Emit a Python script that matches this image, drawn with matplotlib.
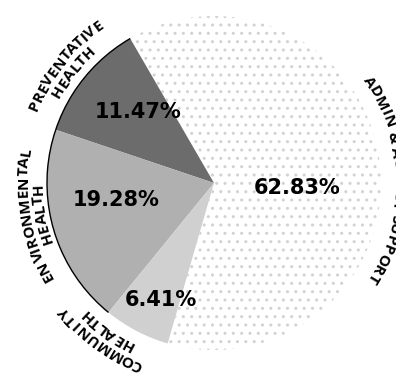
import numpy as np
import matplotlib
matplotlib.use("Agg")
import matplotlib.pyplot as plt
from matplotlib.font_manager import FontProperties, findfont, get_font
from matplotlib import ft2font
from matplotlib.patches import Arc

# ---- data ----
categories = ["ADMIN & AGENCY SUPPORT", "PREVENTATIVE\nHEALTH",
              "ENVIRONMENTAL\nHEALTH", "COMMUNITY\nHEALTH"]
shares = [62.83, 11.47, 19.28, 6.41]
pct_labels = ["62.83%", "11.47%", "19.28%", "6.41%"]

# ---- style ----
colors = ["white", "#6c6c6c", "#b0b0b0", "#d0d0d0"]
pct_radius = [0.50, 0.625, 0.595, 0.77]
pct_angle_shift = [-10.5, -3.7, -6.0, 3.3]
label_angle_shift = [-5.8, 1.0, -6.0, -8.3]
label_radius = [1.115, 1.175, 1.15, 1.19]
line_gap = 0.087
tracking_px = 0.4
SCALE = 167.0  # pixels per data unit

fig = plt.figure(figsize=(3.96, 3.79), dpi=100)
ax = fig.add_axes([0, 0, 1, 1])
cx, cy = 214.0, 379 - 183.0

wedges, _ = ax.pie(shares, colors=colors, startangle=-106.1, counterclock=True,
                   radius=1.0, center=(0, 0), frame=True,
                   wedgeprops=dict(linewidth=0))
ax.set_xlim(-cx / SCALE, (396 - cx) / SCALE)
ax.set_ylim(-cy / SCALE, (379 - cy) / SCALE)
ax.set_aspect("auto")
ax.axis("off")

# admin slice: sparse light dots
wedges[0].set_hatch("..")
wedges[0].set_edgecolor("#d2d2d2")
wedges[0].set_linewidth(0)

# dark outer rim over preventative + environmental
ax.add_patch(Arc((0, 0), 2, 2, theta1=wedges[1].theta1, theta2=wedges[2].theta2,
                 color="black", lw=1.0, zorder=3))

# percentage labels
for w, t, rf, sh in zip(wedges, pct_labels, pct_radius, pct_angle_shift):
    mid = np.deg2rad((w.theta1 + w.theta2) / 2 + sh)
    ax.text(rf * np.cos(mid), rf * np.sin(mid), t, ha="center", va="center",
            fontsize=15, fontweight="bold", family="DejaVu Sans", color="black",
            zorder=5)

# curved category labels
fs = 11.0
fp = FontProperties(family="Open Sans", weight="bold", size=fs)
font = get_font(findfont(fp))
font.set_size(fs, 100)
try:
    NOHINT = ft2font.LoadFlags.NO_HINTING
    KDEF = ft2font.Kerning.DEFAULT
except AttributeError:
    NOHINT = ft2font.LOAD_NO_HINTING
    KDEF = ft2font.KERNING_DEFAULT


def glyph_centers(text):
    pen = 0.0
    prev = None
    centers = []
    for ch in text:
        idx = font.get_char_index(ord(ch))
        if prev is not None:
            pen += font.get_kerning(prev, idx, KDEF) / 64.0 + tracking_px
        g = font.load_char(ord(ch), flags=NOHINT)
        lsb = g.horiBearingX / 64.0
        wid = g.width / 64.0
        centers.append(pen + lsb + wid / 2.0)
        pen += g.linearHoriAdvance / 65536.0
        prev = idx
    return np.array(centers), pen


def curved(text, theta_c, r_center):
    r_px = r_center * SCALE
    centers, total = glyph_centers(text)
    fs_px = fs * 100 / 72.0
    r_base = (r_px - 0.36 * fs_px) / SCALE
    for ch, c in zip(text, centers):
        if ch == " ":
            continue
        th = theta_c - np.rad2deg((c - total / 2.0) / r_px)
        t = np.deg2rad(th)
        ax.text(r_base * np.cos(t), r_base * np.sin(t), ch, fontproperties=fp,
                rotation=th - 90, rotation_mode="anchor", ha="center",
                va="baseline", color="black", zorder=5)


for w, lab, sh, rr in zip(wedges, categories, label_angle_shift, label_radius):
    mid = (w.theta1 + w.theta2) / 2 + sh
    lines = lab.split("\n")
    for k, line in enumerate(lines):
        curved(line, mid, rr - k * line_gap)

fig.savefig("out.png", dpi=100)
